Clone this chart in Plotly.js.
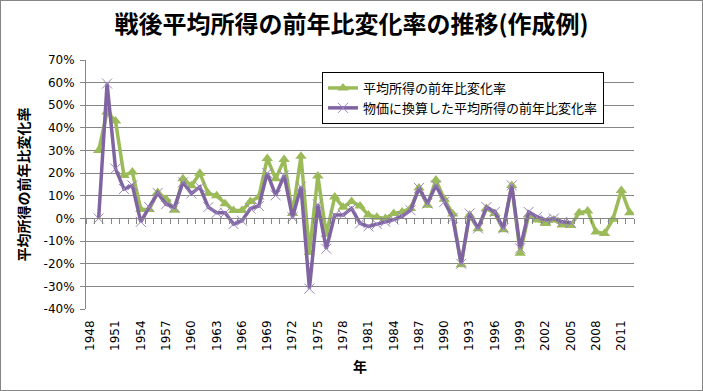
<!DOCTYPE html>
<html>
<head>
<meta charset="utf-8">
<script src="https://cdn.plot.ly/plotly-3.0.1.min.js"></script>
<style>
  html, body { margin: 0; padding: 0; background: #ffffff; }
  #wrap { position: relative; width: 703px; height: 391px; }
  #chart { width: 703px; height: 391px; }
  #frame { position: absolute; left: 0; top: 0; width: 703px; height: 391px; box-sizing: border-box; border: 1px solid #868686; pointer-events: none; }
</style>
</head>
<body>
<div id="wrap"><div id="chart"></div><div id="frame"></div></div>
<script>
// ---- data (percent change from previous year) ----
const years = [
  1949,1950,1951,1952,1953,1954,1955,1956,1957,1958,
  1959,1960,1961,1962,1963,1964,1965,1966,1967,1968,
  1969,1970,1971,1972,1973,1974,1975,1976,1977,1978,
  1979,1980,1981,1982,1983,1984,1985,1986,1987,1988,
  1989,1990,1991,1992,1993,1994,1995,1996,1997,1998,
  1999,2000,2001,2002,2003,2004,2005,2006,2007,2008,
  2009,2010,2011,2012
];
const nominalChange = [
  30, 47, 43, 19, 20.5, 4, 4, 11.5, 8.5, 3.6,
  17.5, 14.5, 20, 11, 10, 6.5, 3.5, 3.5, 7.5, 9.5,
  26.5, 17.5, 26, 2.2, 27.5, -15, 18.8, -7, 9.5, 5,
  7.5, 5.5, 1.5, 0.5, 0, 2.2, 2.9, 4.4, 13.5, 5.8,
  17, 8.5, 2, -20.5, 1.5, -4.5, 4.4, 2.2, -5, 14.6,
  -15.4, 1.5, -0.7, -2.2, -0.7, -2.9, -3.1, 2.5, 3.3, -6,
  -6.6, -0.4, 12.4, 2.5
];
const realChange = [
  0, 59.6, 22, 13, 14.6, -1.5, 5, 11.3, 6.3, 5,
  16, 11, 13.9, 5, 2.5, 2.5, -2.5, -1, 4.4, 5.5,
  20, 10.2, 19, 0.5, 14, -31, 6.2, -13.4, 1.5, 1.5,
  4.4, -2.2, -3.5, -2.5, -1.5, -0.5, 1, 3.6, 13.5, 6.6,
  14.6, 7.3, 0.3, -20, 2.2, -4.4, 5, 2.9, -4.4, 14.6,
  -13.2, 2.9, 0.7, -0.6, 0, -1.5, -1.9
];
const seriesNames = ["平均所得の前年比変化率", "物価に換算した平均所得の前年比変化率"];
const categoryYears = [];          // axis categories 1948..2012
for (let y = 1948; y <= 2012; y++) categoryYears.push(y);
const xTickYears = [1948,1951,1954,1957,1960,1963,1966,1969,1972,1975,1978,1981,1984,1987,1990,1993,1996,1999,2002,2005,2008,2011];
const yTickValues = [70,60,50,40,30,20,10,0,-10,-20,-30,-40];
const yTickLabels = ["70%","60%","50%","40%","30%","20%","10%","0%","-10%","-20%","-30%","-40%"];
const chartTitle = "戦後平均所得の前年比変化率の推移(作成例)";
const xTitle = "年";
const yTitle = "平均所得の前年比変化率";

// ---- chart ----
const green = "#9BBB59";
const purple = "#8064A2";
const gridGray = "#868686";
const xRange = [categoryYears[0] - 0.5, categoryYears[categoryYears.length - 1] + 0.5];
const boundaries = [];
for (let i = 0; i <= categoryYears.length; i++) boundaries.push(categoryYears[0] - 0.5 + i);

const traces = [
  {
    x: years, y: nominalChange, name: seriesNames[0], type: "scatter", mode: "lines+markers",
    line: { color: green, width: 3.5 },
    marker: { symbol: "triangle-up", size: 10, color: green }
  },
  {
    x: years.slice(0, realChange.length), y: realChange, name: seriesNames[1], type: "scatter", mode: "lines+markers",
    line: { color: purple, width: 3.5 },
    marker: { symbol: "x-thin", size: 10, color: purple, line: { color: "#9A86BE", width: 1 } }
  },
  { x: [], y: [], xaxis: "x2", showlegend: false, hoverinfo: "skip", type: "scatter", mode: "lines" }
];

const layout = {
  width: 703, height: 391,
  paper_bgcolor: "#ffffff", plot_bgcolor: "#ffffff",
  margin: { l: 86, r: 69, t: 60, b: 82 },
  font: { family: "DejaVu Sans", size: 12, color: "#000000" },
  title: {
    text: chartTitle,
    font: { family: "Noto Sans CJK JP", size: 24, weight: "bold", color: "#000000" },
    x: 0.5, xanchor: "center", xref: "container",
    y: 1 - 25 / 391, yanchor: "middle", yref: "container"
  },
  showlegend: true,
  legend: {
    x: (322 - 86) / 548, xanchor: "left",
    y: (309 - 72) / 249, yanchor: "top",
    bgcolor: "#ffffff", bordercolor: "#000000", borderwidth: 1,
    font: { family: "Noto Sans CJK JP", size: 13, color: "#000000" },
    itemwidth: 30,
    tracegroupgap: 0
  },
  xaxis: {
    type: "linear", range: xRange,
    tickmode: "array", tickvals: xTickYears, ticktext: xTickYears.map(String),
    tickangle: -90, ticks: "", showgrid: false, zeroline: false, showline: false,
    ticklabelstandoff: 8,
    tickfont: { family: "DejaVu Sans", size: 12, color: "#000000" },
    title: { text: xTitle, font: { family: "Noto Sans CJK JP", size: 14, weight: "bold", color: "#000000" }, standoff: 12 },
    fixedrange: true
  },
  xaxis2: {
    type: "linear", range: xRange, overlaying: "x", anchor: "free",
    position: 40 / 110,
    tickmode: "array", tickvals: boundaries, ticks: "outside", ticklen: 5, tickcolor: gridGray, tickwidth: 1,
    showticklabels: false, showgrid: false, zeroline: false,
    showline: true, linecolor: gridGray, linewidth: 1
  },
  yaxis: {
    range: [-40, 70],
    tickmode: "array", tickvals: yTickValues, ticktext: yTickLabels,
    ticks: "outside", ticklen: 5, tickcolor: gridGray, tickwidth: 1,
    ticklabelstandoff: 3,
    showgrid: true, gridcolor: gridGray, gridwidth: 1,
    zeroline: false, showline: true, linecolor: gridGray, linewidth: 1,
    tickfont: { family: "DejaVu Sans", size: 12, color: "#000000" },
    title: { text: yTitle, font: { family: "Noto Sans CJK JP", size: 14, weight: "bold", color: "#000000" }, standoff: 10 },
    fixedrange: true
  }
};

Plotly.newPlot("chart", traces, layout, { displayModeBar: false, staticPlot: true });
</script>
</body>
</html>
